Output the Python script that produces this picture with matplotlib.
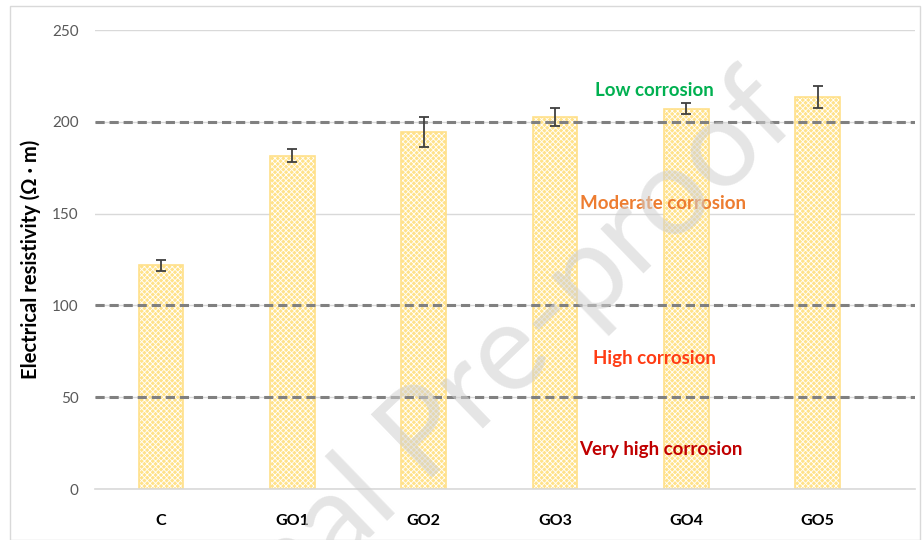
import matplotlib.pyplot as plt
from matplotlib.patches import Rectangle

plt.rcParams['font.family'] = ['Lato', 'DejaVu Sans']
plt.rcParams['hatch.linewidth'] = 0.6

samples = ["C", "GO1", "GO2", "GO3", "GO4", "GO5"]
resistivity = [122, 181.5, 194.5, 202.5, 207, 213.5]
err = [3, 3.5, 8, 5, 3, 6]

zone_lines = [50, 100, 200]
zone_labels = ["Low corrosion", "Moderate corrosion", "High corrosion", "Very high corrosion"]
zone_label_x = [3.76, 3.82, 3.76, 3.81]
zone_label_y = [217, 155.5, 71, 21.5]
zone_colors = ["#00B050", "#ED7D31", "#FF3C14", "#C00000"]

fig = plt.figure(figsize=(9.24, 5.4), dpi=100)
ax = fig.add_axes([0.103, 0.0944, 0.887, 0.85])

x = range(len(samples))
# hatched fill, then a thin edge on top
ax.bar(x, resistivity, width=0.34, color="#FFE28A", edgecolor="white",
       linewidth=0, hatch="xxxxxx", zorder=2)
ax.bar(x, resistivity, width=0.34, fill=False, edgecolor="#FFE08A",
       linewidth=1.2, zorder=2)
ax.errorbar(x, resistivity, yerr=err, fmt="none", ecolor="#404040",
            elinewidth=1.3, capsize=3.5, capthick=1.3, zorder=4)

for y in zone_lines:
    ax.axhline(y, color="#808080", linestyle=(0, (3, 1.6)), linewidth=2.2, zorder=3)

for lab, xx, yy, c in zip(zone_labels, zone_label_x, zone_label_y, zone_colors):
    ax.text(xx, yy, lab, color=c, fontsize=13.5, fontweight="bold",
            ha="center", va="center", zorder=5)

ax.set_xlim(-0.5, 5.74)
ax.set_ylim(0, 250)
ax.set_yticks([0, 50, 100, 150, 200, 250])
ax.yaxis.grid(True, color="#D9D9D9", linewidth=1)
ax.set_axisbelow(True)
for s in ["top", "right", "left"]:
    ax.spines[s].set_visible(False)
ax.spines["bottom"].set_color("#D9D9D9")
ax.spines["bottom"].set_linewidth(1.2)
ax.tick_params(axis="both", length=0)
ax.tick_params(axis="y", labelcolor="#595959", labelsize=11, pad=12)
ax.tick_params(axis="x", pad=18)
ax.set_xticks(list(x))
ax.set_xticklabels(samples, fontsize=11.5, fontweight="bold")
ax.set_ylabel("Electrical resistivity (Ω · m)", fontsize=14.5, fontweight="bold", labelpad=8)

# watermark
fig.text(0.472, 0.212, "Journal Pre-proof", fontsize=88, color="#D0D0D0", alpha=0.55,
         rotation=44, ha="center", va="center", zorder=10)

fig.patches.append(Rectangle((0.011, 0.0), 0.985, 0.988, transform=fig.transFigure,
                             fill=False, edgecolor="#D9D9D9", linewidth=1))

fig.savefig("out.png", dpi=100)
